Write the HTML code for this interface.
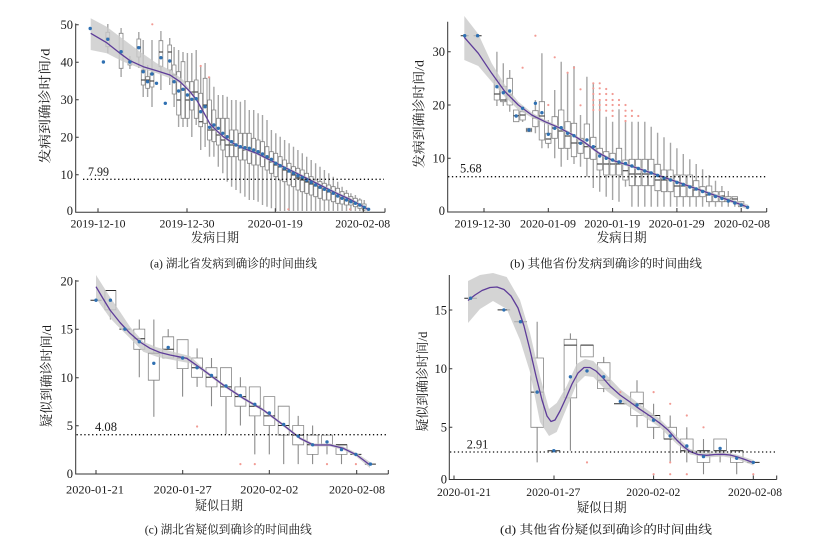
<!DOCTYPE html>
<html><head><meta charset="utf-8"><style>
html,body{margin:0;padding:0;background:#fff}
svg{display:block}
.t{font-family:"Liberation Serif","Noto Serif CJK SC",serif;fill:#1a1a1a}
.ax{fill:none;stroke:#333;stroke-width:1}
.wa{fill:none;stroke:#a6a6a6;stroke-width:1.4}
.wc{fill:none;stroke:#8a8a8a;stroke-width:1.1}
.bx{fill:#fff;stroke:#858585;stroke-width:.8}
.md{fill:none;stroke:#2a2a2a;stroke-width:1}
.bd{fill:#c9c9c9;fill-opacity:.8;stroke:none}
.tr{fill:none;stroke:#5e3c99;stroke-width:1.3;stroke-linejoin:round}
.dt{fill:none;stroke:#2f70b2;stroke-width:3.4;stroke-linecap:round}
.rd{fill:none;stroke:#f29b94;stroke-width:2.2;stroke-linecap:round}
.dl{fill:none;stroke:#111;stroke-width:1.3;stroke-dasharray:1.3 2.6}
</style></head><body>
<svg width="823" height="542" viewBox="0 0 823 542" xmlns="http://www.w3.org/2000/svg">
<rect width="823" height="542" fill="#fff"/>

<!-- ===== Panel A ===== -->
<path class="wa" d="M107.8 24V53.3M121.1 28V77M129.9 56V69M138.8 32V68M143.2 40V97M147.6 65V97M152 40V107M160.9 31V90M169.7 38V85M174.1 47V107M178.6 50V127M183 52V127M187.4 53V127M191.8 53V137M196.2 50V125M200.7 66.7V150M205.1 63V147M209.5 76.7V156.7M213.9 86.7V156.7M218.3 95V166.7M222.8 95V173.3M227.2 96.7V181.7M231.6 100V186.7M236 100V190M240.4 101.7V193.3M244.9 100V196.7M249.3 110V200M253.7 110V200M258.1 113.3V201.7M262.5 115V205M267 120V206.7M271.4 130V208.3M275.8 133.3V211M280.2 136.7V211M284.6 140V211M289.1 143.3V211M293.5 146.7V211M297.9 150V211M302.3 153.3V211M306.7 156.7V211M311.2 160V211M315.6 163.3V211M320 166.7V211M324.4 170V211M328.8 173.3V211M333.3 176.7V211M337.7 181.7V211M342.1 186.7V211M346.5 190V211M350.9 193.3V211M355.4 195V211M359.8 198.3V211M364.2 200V211"/>
<path class="bx" d="M105.9 32.3h3.8V46.7h-3.8ZM119.2 33.3h3.8V68.3h-3.8ZM128 60h3.8V65h-3.8ZM136.9 39h3.8V57h-3.8ZM141.3 70h3.8V85h-3.8ZM145.7 76.7h3.8V88.3h-3.8ZM150.1 73h3.8V87h-3.8ZM159 40.7h3.8V66.7h-3.8ZM167.8 45h3.8V70h-3.8ZM172.2 65h3.8V94h-3.8ZM176.7 71.7h3.8V115h-3.8ZM181.1 61.7h3.8V118.3h-3.8ZM185.5 81.7h3.8V118.3h-3.8ZM189.9 81.7h3.8V110h-3.8ZM194.3 80h3.8V118.3h-3.8ZM198.8 93.3h3.8V126.7h-3.8ZM203.2 78.3h3.8V123.3h-3.8ZM207.6 100h3.8V140h-3.8ZM212 110h3.8V141.7h-3.8ZM216.4 118.3h3.8V145h-3.8ZM220.9 118.3h3.8V150h-3.8ZM225.3 118.3h3.8V156.7h-3.8ZM229.7 130h3.8V156.7h-3.8ZM234.1 130h3.8V156.7h-3.8ZM238.5 133.3h3.8V160h-3.8ZM243 133.3h3.8V160h-3.8ZM247.4 133.3h3.8V163.3h-3.8ZM251.8 138.3h3.8V165h-3.8ZM256.2 140h3.8V165h-3.8ZM260.6 141.7h3.8V166.7h-3.8ZM265.1 146.7h3.8V170h-3.8ZM269.5 151.7h3.8V173.3h-3.8ZM273.9 153.3h3.8V176.7h-3.8ZM278.3 156.7h3.8V180h-3.8ZM282.7 160h3.8V181.7h-3.8ZM287.2 163.3h3.8V185h-3.8ZM291.6 166.7h3.8V186.7h-3.8ZM296 168.3h3.8V190h-3.8ZM300.4 170h3.8V191.7h-3.8ZM304.8 173.3h3.8V193.3h-3.8ZM309.3 176.7h3.8V195h-3.8ZM313.7 180h3.8V196.7h-3.8ZM318.1 181.7h3.8V198.3h-3.8ZM322.5 183.3h3.8V200h-3.8ZM326.9 185h3.8V200h-3.8ZM331.4 186.7h3.8V201.7h-3.8ZM335.8 188.3h3.8V203.3h-3.8ZM340.2 191.7h3.8V204h-3.8ZM344.6 193.3h3.8V205h-3.8ZM349 196.7h3.8V205h-3.8ZM353.5 198.3h3.8V206.7h-3.8ZM357.9 200h3.8V208.3h-3.8ZM362.3 204h3.8V210h-3.8Z"/>
<path class="md" d="M105.9 38h3.8M119.2 52h3.8M128 62h3.8M136.9 47h3.8M141.3 80h3.8M145.7 80h3.8M150.1 81h3.8M159 52h3.8M167.8 52h3.8M172.2 75h3.8M176.7 100h3.8M181.1 90h3.8M185.5 100h3.8M189.9 92h3.8M194.3 92h3.8M198.8 121.7h3.8M203.2 105h3.8M207.6 130h3.8M212 130h3.8M216.4 135h3.8M220.9 140h3.8M225.3 145h3.8M229.7 145h3.8M234.1 145h3.8M238.5 148h3.8M243 150h3.8M247.4 150h3.8M251.8 152h3.8M256.2 153h3.8M260.6 156h3.8M265.1 158h3.8M269.5 162h3.8M273.9 165h3.8M278.3 167h3.8M282.7 170h3.8M287.2 172h3.8M291.6 175h3.8M296 178h3.8M300.4 180h3.8M304.8 182h3.8M309.3 184h3.8M313.7 186h3.8M318.1 188h3.8M322.5 190h3.8M326.9 192h3.8M331.4 194h3.8M335.8 196h3.8M340.2 198h3.8M344.6 200h3.8M349 201h3.8M353.5 203h3.8M357.9 205h3.8M362.3 207h3.8"/>
<polygon class="bd" points="90.7,18.3 106.7,26.7 123.3,39.3 140,51.7 156.7,63.3 170,70 183.3,80 190,90 196.7,98.5 203.3,110.2 210,122.5 216.7,129.2 223.3,135.2 233.3,141.8 243.3,146.8 256.7,151.8 270,158.5 283.3,165.2 296.7,171.8 310,178.5 323.3,185.2 336.7,191.8 350,197.8 363.3,205 368,207.5 368,211.5 363.3,208.4 350,200.8 336.7,194.8 323.3,188.2 310,181.5 296.7,174.8 283.3,168.2 270,161.5 256.7,154.8 243.3,149.8 233.3,144.8 223.3,138.2 216.7,132.2 210,125.5 203.3,113.2 196.7,101.5 190,93.5 183.3,85 170,78.3 156.7,73.3 140,68.3 123.3,61.7 106.7,53.3 90.7,50"/>
<polyline class="tr" points="90.7,33.3 106.7,42.7 120,53.3 130,60.7 143.3,66.7 156.7,70.7 170,75 180,81.7 190,91.7 196.7,100 203.3,111.7 210,124 216.7,130.7 223.3,136.7 233.3,143.3 243.3,148.3 256.7,153.3 270,160 283.3,166.7 296.7,173.3 310,180 323.3,186.7 336.7,193.3 350,199.3 363.3,206.7 368,209.5"/>
<path class="dt" d="M90.2 28.5h.01M103.4 62h.01M107.8 39.3h.01M121.1 51.7h.01M129.9 62h.01M138.8 47.7h.01M143.2 71.7h.01M147.6 81.7h.01M152 74h.01M156.5 83.3h.01M160.9 57.7h.01M165.3 103.3h.01M169.7 61h.01M174.1 81.7h.01M178.6 91h.01M183 89.3h.01M187.4 95h.01M191.8 99.3h.01M196.2 98.7h.01M200.7 111.7h.01M205.1 106.7h.01M209.5 127.3h.01M213.9 125h.01M218.3 128.3h.01M222.8 133.3h.01M227.2 136.7h.01M231.6 141.7h.01M236 145h.01M240.4 146.7h.01M244.9 147.7h.01M249.3 148.3h.01M253.7 150h.01M258.1 151.7h.01M262.5 154h.01M267 156.7h.01M271.4 159.3h.01M275.8 163.3h.01M280.2 165.7h.01M284.6 168.3h.01M289.1 171h.01M293.5 173.3h.01M297.9 175.7h.01M302.3 177.7h.01M306.7 180h.01M311.2 182.3h.01M315.6 185h.01M320 187.3h.01M324.4 189.3h.01M328.8 190.7h.01M333.3 193.3h.01M337.7 196h.01M342.1 198.3h.01M346.5 200h.01M350.9 201.7h.01M355.4 203.3h.01M359.8 205h.01M364.2 207.3h.01M368.6 209.3h.01"/>
<path class="rd" d="M152.3 24.3h.01M200.7 66h.01M209 77.3h.01M288.3 209.3h.01M350 209.3h.01"/>
<path class="dl" d="M83 179.3H384"/>
<path class="ax" d="M75.7 23.5V212.3H385M98 212.3v-4M187 212.3v-4M275.3 212.3v-4M363.3 212.3v-4M385 212.3v-4M75.7 24.7h3M75.7 62.2h3M75.7 99.7h3M75.7 137.2h3M75.7 174.8h3"/>
<g class="t" font-size="12.5" text-anchor="end">
<text x="73" y="29">50</text><text x="73" y="66.5">40</text><text x="73" y="104">30</text><text x="73" y="141.5">20</text><text x="73" y="179">10</text><text x="73" y="215">0</text>
</g>
<g class="t" font-size="12" text-anchor="middle">
<text x="98" y="227.6" textLength="55" lengthAdjust="spacingAndGlyphs">2019-12-10</text>
<text x="187" y="227.6" textLength="55" lengthAdjust="spacingAndGlyphs">2019-12-30</text>
<text x="275.3" y="227.6" textLength="55" lengthAdjust="spacingAndGlyphs">2020-01-19</text>
<text x="362.7" y="227.6" textLength="55" lengthAdjust="spacingAndGlyphs">2020-02-08</text>
</g>
<g class="t" font-size="13" text-anchor="middle">
<text x="215" y="242" textLength="48" lengthAdjust="spacingAndGlyphs">发病日期</text>
<text x="233.5" y="267.5" font-size="12" textLength="167" lengthAdjust="spacingAndGlyphs">(a) 湖北省发病到确诊的时间曲线</text>
<text transform="translate(49.5,106) rotate(-90)" x="0" y="0" textLength="115" lengthAdjust="spacingAndGlyphs">发病到确诊时间/d</text>
</g>
<text class="t" x="88" y="176" font-size="12.5" textLength="21" lengthAdjust="spacingAndGlyphs">7.99</text>

<!-- ===== Panel B ===== -->
<path class="wa" d="M496.9 51.7V106M503.3 63.3V106M509.7 70V111.7M522.6 107V122M535.4 100V133.3M541.9 53.3V148.3M548.3 120V148.3M554.7 90V158.3M561.2 61.7V166.7M567.6 72V160M574 66V164M580.5 115V166.7M586.9 76.7V176.7M593.3 84V188M599.7 100V191.7M606.2 116.7V196.7M612.6 121.7V200M619 109.3V201.7M625.5 121.7V186.7M631.9 121.7V206.7M638.3 121.7V206.7M644.8 121.7V206.7M651.2 126.7V206.7M657.6 132.7V206.7M664 137.3V206.7M670.5 142.7V206.7M676.9 148.3V206.7M683.3 154V206.7M689.8 159.3V206.7M696.2 164V206.7M702.6 169.3V206.7M709.1 175V206.7M715.5 180.7V206.7M721.9 186V206.7M728.3 191V206.7M734.8 196.7V206.7"/>
<path class="bx" d="M494.2 80h5.4V100h-5.4ZM500.6 86.7h5.4V101.7h-5.4ZM507 78.3h5.4V105h-5.4ZM513.5 110h5.4V121.7h-5.4ZM519.9 111.7h5.4V120h-5.4ZM526.3 128.3h5.4V131.7h-5.4ZM532.7 110.7h5.4V126.7h-5.4ZM539.2 101.7h5.4V140h-5.4ZM545.6 133.3h5.4V143.3h-5.4ZM552 116.7h5.4V138.3h-5.4ZM558.5 110h5.4V148.3h-5.4ZM564.9 121.7h5.4V148.3h-5.4ZM571.3 123.3h5.4V156.7h-5.4ZM577.8 138.3h5.4V153.3h-5.4ZM584.2 124h5.4V158.3h-5.4ZM590.6 137.3h5.4V159.3h-5.4ZM597 148.3h5.4V170h-5.4ZM603.5 151.7h5.4V175h-5.4ZM609.9 153.3h5.4V175h-5.4ZM616.3 148.3h5.4V175h-5.4ZM622.8 160h5.4V180h-5.4ZM629.2 159.3h5.4V185.7h-5.4ZM635.6 159.3h5.4V185.7h-5.4ZM642.1 159.3h5.4V185.7h-5.4ZM648.5 159.3h5.4V185.7h-5.4ZM654.9 164.3h5.4V190.7h-5.4ZM661.3 170h5.4V191.7h-5.4ZM667.8 170h5.4V191.7h-5.4ZM674.2 175h5.4V196.7h-5.4ZM680.6 175h5.4V196.7h-5.4ZM687.1 175h5.4V196.7h-5.4ZM693.5 180.7h5.4V196.7h-5.4ZM699.9 186.7h5.4V196.7h-5.4ZM706.4 186h5.4V201.7h-5.4ZM712.8 191.7h5.4V201.7h-5.4ZM719.2 191.7h5.4V201.7h-5.4ZM725.6 196.7h5.4V201.7h-5.4ZM732.1 196.7h5.4V201.7h-5.4ZM738.5 201.7h5.4V206.7h-5.4Z"/>
<path class="md" d="M460.7 35.7h8M473.6 35.7h8M494.2 94h5.4M500.6 100h5.4M507 95h5.4M513.5 115.7h5.4M519.9 115h5.4M526.3 130h5.4M532.7 118h5.4M539.2 116h5.4M545.6 139h5.4M552 128h5.4M558.5 131h5.4M564.9 136h5.4M571.3 143h5.4M577.8 143h5.4M584.2 146.7h5.4M590.6 146.7h5.4M597 164h5.4M603.5 164h5.4M609.9 164h5.4M616.3 164h5.4M622.8 170.7h5.4M629.2 174h5.4M635.6 174h5.4M642.1 174h5.4M648.5 174h5.4M654.9 180h5.4M661.3 180h5.4M667.8 180h5.4M674.2 186h5.4M680.6 186h5.4M687.1 186h5.4M693.5 190h5.4M699.9 191h5.4M706.4 195h5.4M712.8 196h5.4M719.2 196h5.4M725.6 199h5.4M732.1 199h5.4M738.5 204h5.4"/>
<polygon class="bd" points="464.3,16 478.3,34 491.7,63.3 505,85 518.3,101.7 531.7,112.5 545,119.7 558.3,125.8 571.7,132.8 585,141.2 598.3,151.2 611.7,158.5 633.3,165.2 666.7,176.8 700,188.5 733.3,199.8 748.3,204.8 748.3,209.8 733.3,203.6 700,191.5 666.7,179.8 633.3,168.2 611.7,161.5 598.3,154.2 585,144.2 571.7,135.8 558.3,128.8 545,123.7 531.7,117.5 518.3,110 505,97 491.7,81.7 478.3,66 464.3,60"/>
<polyline class="tr" points="464.3,37.3 478.3,53.3 491.7,73.3 505,91.7 518.3,105 531.7,115 545,121.7 558.3,127.3 571.7,134.3 585,142.7 598.3,152.7 611.7,160 633.3,166.7 666.7,178.3 700,190 733.3,201.7 748.3,207.3"/>
<path class="dt" d="M464.7 35.7h.01M477.6 35.7h.01M496.9 86.7h.01M503.3 92.7h.01M509.7 91h.01M516.2 116h.01M522.6 108.3h.01M529 130h.01M535.4 103.3h.01M541.9 112.7h.01M548.3 134.3h.01M554.7 128.3h.01M561.2 127.7h.01M567.6 133.3h.01M574 135.7h.01M580.5 143.3h.01M586.9 140h.01M593.3 146.7h.01M599.7 156h.01M606.2 158.3h.01M612.6 160h.01M619 162h.01M625.5 163.5h.01M631.9 166h.01M638.3 168.5h.01M644.8 171h.01M651.2 173h.01M657.6 175.5h.01M664 178h.01M670.5 180h.01M676.9 182.5h.01M683.3 184.5h.01M689.8 187h.01M696.2 189h.01M702.6 191.5h.01M709.1 194h.01M715.5 196.5h.01M721.9 198.5h.01M728.3 201h.01M734.8 203h.01M741.2 205h.01M747.6 207.3h.01"/>
<path class="rd" d="M522.6 67.7h.01M535.4 35.7h.01M548.3 105h.01M554.7 57.3h.01M567.6 72.7h.01M574 67.7h.01M580.5 89.3h.01M580.5 105.3h.01M593.3 83.3h.01M593.3 88.3h.01M593.3 94h.01M593.3 100h.01M593.3 105h.01M593.3 110h.01M599.7 83.3h.01M599.7 88.3h.01M599.7 94h.01M599.7 100h.01M599.7 105h.01M599.7 110h.01M606.2 89h.01M606.2 94h.01M606.2 100h.01M606.2 105h.01M606.2 110.7h.01M612.6 94h.01M612.6 100h.01M612.6 105h.01M612.6 110.7h.01M612.6 116h.01M619 100h.01M619 105h.01M625.5 105h.01M625.5 110.7h.01M625.5 116h.01M625.5 121h.01M631.9 110.7h.01M631.9 116h.01M638.3 116h.01"/>
<path class="dl" d="M448 176.7H766"/>
<path class="ax" d="M447.7 21.7V212H766.7M484 212v-4M548.3 212v-4M612.6 212v-4M676.9 212v-4M741.2 212v-4M766.7 212v-4M447.7 51.7h3M447.7 105h3M447.7 158.3h3"/>
<g class="t" font-size="12.5" text-anchor="end">
<text x="445" y="56">30</text><text x="445" y="109.3">20</text><text x="445" y="162.6">10</text><text x="445" y="215">0</text>
</g>
<g class="t" font-size="12" text-anchor="middle">
<text x="482.5" y="227.6" textLength="56" lengthAdjust="spacingAndGlyphs">2019-12-30</text>
<text x="548" y="227.6" textLength="56" lengthAdjust="spacingAndGlyphs">2020-01-09</text>
<text x="612.3" y="227.6" textLength="56" lengthAdjust="spacingAndGlyphs">2020-01-19</text>
<text x="676.7" y="227.6" textLength="56" lengthAdjust="spacingAndGlyphs">2020-01-29</text>
<text x="742" y="227.6" textLength="56" lengthAdjust="spacingAndGlyphs">2020-02-08</text>
</g>
<g class="t" font-size="13" text-anchor="middle">
<text x="621.7" y="242" textLength="50" lengthAdjust="spacingAndGlyphs">发病日期</text>
<text x="606" y="267.5" font-size="12" textLength="192" lengthAdjust="spacingAndGlyphs">(b) 其他省份发病到确诊的时间曲线</text>
<text transform="translate(423.5,114) rotate(-90)" x="0" y="0" textLength="108" lengthAdjust="spacingAndGlyphs">发病到确诊时间/d</text>
</g>
<text class="t" x="460" y="172.5" font-size="12.5" textLength="21.7" lengthAdjust="spacingAndGlyphs">5.68</text>

<!-- ===== Panel C ===== -->
<path class="wc" d="M110.4 309.8V319.5M139.3 319.5V377.3M168.2 329.1V358M182.6 339.7V396.6M197.1 348.4V386.9M211.5 358V406.2M226 367.7V434.2M240.4 377.3V425.5M254.8 386.9V454.4M269.3 396.6V454.4M283.7 406.2V464.1M298.2 415.9V464.1M312.6 425.5V464.1M327 435.1V454.4M341.5 444.8V464.1"/>
<path class="wa" d="M153.8 319.5V416.8"/>
<path class="bx" d="M104.9 290.5h11V309.8h-11ZM133.8 329.1h11V349.3h-11ZM148.3 353.2h11V380.2h-11ZM162.7 336.8h11V358h-11ZM177.1 339.7h11V368.6h-11ZM191.6 358h11V377.3h-11ZM206 367.7h11V386.9h-11ZM220.5 367.7h11V396.6h-11ZM234.9 386.9h11V406.2h-11ZM249.3 386.9h11V415.9h-11ZM263.8 396.6h11V425.5h-11ZM278.2 406.2h11V435.1h-11ZM292.7 425.5h11V444.8h-11ZM307.1 435.1h11V454.4h-11ZM321.5 435.1h11V444.8h-11ZM336 444.8h11V454.4h-11Z"/>
<path class="md" d="M90.5 300.2h11M104.9 290.5h11M119.4 329.1h11M133.8 338.7h11M148.3 353.2h11M162.7 349.3h11M177.1 358h11M191.6 367.7h11M206 377.3h11M220.5 386.9h11M234.9 396.6h11M249.3 406.2h11M263.8 415.9h11M278.2 425.5h11M292.7 435.1h11M307.1 444.8h11M321.5 444.8h11M336 444.8h11M350.4 454.4h11M364.9 464.1h11"/>
<polygon class="bd" points="96,275 110,297 116.7,306.7 130,326.7 143.3,341.7 156.7,347.3 176.7,352.7 190,356 203.3,368.3 223.3,383.5 243.3,396.8 263.3,408.5 283.3,423.5 300,436.8 313.3,443.5 330,443.5 343.3,446.5 356.7,453 370,462 370,468 356.7,457 343.3,450 330,446.5 313.3,446.5 300,439.8 283.3,426.5 263.3,411.5 243.3,399.8 223.3,386.5 203.3,371.7 190,363.3 176.7,360.7 156.7,356.7 143.3,351.7 130,338.3 116.7,325 110,318 96,298.3"/>
<polyline class="tr" points="96,286.7 103,298.5 110,310 120,322.5 130,333.3 140,342 150,348.3 160,352.5 170,355 186.7,358.3 203.3,370 223.3,385 243.3,398.3 263.3,410 283.3,425 300,438.3 313.3,445 330,445 343.3,448.3 356.7,455 370,465"/>
<path class="dt" d="M96 300.2h.01M110.4 300.2h.01M124.9 329.1h.01M139.3 341.7h.01M153.8 363.3h.01M168.2 347.4h.01M182.6 358h.01M197.1 367.7h.01M211.5 375.4h.01M226 386h.01M240.4 395.6h.01M254.8 404.3h.01M269.3 413h.01M283.7 424.5h.01M298.2 436.1h.01M312.6 444.8h.01M327 441.9h.01M341.5 449.6h.01M355.9 454.4h.01M370.4 464.1h.01"/>
<path class="rd" d="M197.1 426.5h.01M240.4 464.1h.01M254.8 464.1h.01M327 464.1h.01M355.9 464.1h.01"/>
<path class="dl" d="M76.5 434.7H388"/>
<path class="ax" d="M75.7 280V474H388.3M96 474v-4M182.7 474v-4M269.3 474v-4M356.7 474v-4M388.3 474v-4M75.7 281h3M75.7 329.3h3M75.7 377.7h3M75.7 425.7h3"/>
<g class="t" font-size="12.5" text-anchor="end">
<text x="73" y="285.3">20</text><text x="73" y="333.6">15</text><text x="73" y="382">10</text><text x="73" y="430">5</text><text x="73" y="478">0</text>
</g>
<g class="t" font-size="12" text-anchor="middle">
<text x="95" y="493.6" textLength="58" lengthAdjust="spacingAndGlyphs">2020-01-21</text>
<text x="182.7" y="493.6" textLength="58" lengthAdjust="spacingAndGlyphs">2020-01-27</text>
<text x="269.3" y="493.6" textLength="58" lengthAdjust="spacingAndGlyphs">2020-02-02</text>
<text x="357" y="493.6" textLength="56" lengthAdjust="spacingAndGlyphs">2020-02-08</text>
</g>
<g class="t" font-size="13" text-anchor="middle">
<text x="219" y="510" textLength="48" lengthAdjust="spacingAndGlyphs">疑似日期</text>
<text x="228.3" y="533.5" font-size="12" textLength="167" lengthAdjust="spacingAndGlyphs">(c) 湖北省疑似到确诊的时间曲线</text>
<text transform="translate(51.2,376) rotate(-90)" x="0" y="0" textLength="102" lengthAdjust="spacingAndGlyphs">疑似到确诊时间/d</text>
</g>
<text class="t" x="95" y="431" font-size="12.5" textLength="22" lengthAdjust="spacingAndGlyphs">4.08</text>

<!-- ===== Panel D ===== -->
<path class="wc" d="M570.4 333.4V450.7M603.7 356.9V392.1M637 380.3V427.3M653.6 403.8V439M670.2 415.5V462.4M686.8 427.3V462.4M703.5 439V474.2M720.1 450.7V462.4M736.7 462.4V474.2"/>
<path class="wa" d="M537.2 321.7V462.4"/>
<path class="bx" d="M530.9 358h12.6V427.3h-12.6ZM564.1 339.3h12.6V397.9h-12.6ZM580.7 345.1h12.6V356.9h-12.6ZM597.4 362.7h12.6V388.5h-12.6ZM630.7 392.1h12.6V415.5h-12.6ZM647.3 415.5h12.6V427.3h-12.6ZM663.9 427.3h12.6V439h-12.6ZM680.5 439h12.6V450.7h-12.6ZM697.2 450.7h12.6V462.4h-12.6ZM713.8 439h12.6V450.7h-12.6ZM730.4 450.7h12.6V462.4h-12.6Z"/>
<path class="md" d="M464.3 298.2h12.6M497.6 309.9h12.6M514.2 321.7h12.6M530.9 392.1h12.6M547.5 450.7h12.6M564.1 345.1h12.6M580.7 345.1h12.6M597.4 380.3h12.6M614 403.8h12.6M630.7 403.8h12.6M647.3 415.5h12.6M663.9 439h12.6M680.5 450.7h12.6M697.2 450.7h12.6M713.8 450.7h12.6M730.4 450.7h12.6M747 462.4h12.6"/>
<polygon class="bd" points="468,281 480,275 493,273 506.7,277 520,300 530,333 540,376 549,409 556.7,403 566.7,386 576.7,364 585,359 593.3,361 606.7,375 620,389 640,404.5 660,419 676.7,436 690,449 706.7,453 723.3,452 736.7,454.5 753.3,460 753.3,465.5 736.7,459 723.3,456.5 706.7,457.5 690,454.5 676.7,444 660,427.5 640,414 620,401 606.7,391 593.3,377 585,376 576.7,384 566.7,408 556.7,432 549,436 540,422 530,372 520,340 506.7,309 493,301 480,309 468,323"/>
<polyline class="tr" points="468,300.5 475,295 482,290.5 490,287.5 497,287 504,289.5 511,296 518,308 524,326 530,350 536,376 542,400 547,416 551,421.5 555,420 560,411 566,398 572,384 578,373 584,367.5 590,367.5 596,371 603,378 610,386 620,395 630,402 640,409.3 650,416 660,423.3 668,430 676.7,440 684,447 690,451.5 698,454.5 706.7,455.3 715,454.5 723.3,454.3 730,455 736.7,456.7 745,459.5 753.3,462.7"/>
<path class="dt" d="M470.6 298.2h.01M503.9 309.9h.01M520.5 321.7h.01M537.2 392.1h.01M553.8 450.7h.01M570.4 376.8h.01M587 370.9h.01M603.7 376.8h.01M620.3 401.4h.01M637 405h.01M653.6 420.2h.01M670.2 436h.01M686.8 446h.01M703.5 456.6h.01M720.1 448.4h.01M736.7 458.3h.01M753.3 462.4h.01"/>
<path class="rd" d="M587 462.4h.01M620.3 392.1h.01M653.6 392.1h.01M653.6 474.2h.01M670.2 403.8h.01M670.2 462.4h.01M670.2 474.2h.01M686.8 415.5h.01M686.8 474.2h.01M703.5 427.3h.01M753.3 474.2h.01"/>
<path class="dl" d="M450 452H776"/>
<path class="ax" d="M449.3 275V479.5H776.7M454 479.5v-4M554 479.5v-4M653.6 479.5v-4M753.3 479.5v-4M776.7 479.5v-4M449.3 310h3M449.3 368.7h3M449.3 427.3h3"/>
<g class="t" font-size="12.5" text-anchor="end">
<text x="447" y="314.3">15</text><text x="447" y="373">10</text><text x="447" y="431.6">5</text><text x="447" y="483.5">0</text>
</g>
<g class="t" font-size="12" text-anchor="middle">
<text x="464" y="496" textLength="54" lengthAdjust="spacingAndGlyphs">2020-01-21</text>
<text x="553.3" y="496" textLength="54" lengthAdjust="spacingAndGlyphs">2020-01-27</text>
<text x="653.3" y="496" textLength="54" lengthAdjust="spacingAndGlyphs">2020-02-02</text>
<text x="755" y="496" textLength="54" lengthAdjust="spacingAndGlyphs">2020-02-08</text>
</g>
<g class="t" font-size="13" text-anchor="middle">
<text x="601.7" y="512" textLength="50" lengthAdjust="spacingAndGlyphs">疑似日期</text>
<text x="606" y="533.5" font-size="12" textLength="212" lengthAdjust="spacingAndGlyphs">(d) 其他省份疑似到确诊的时间曲线</text>
<text transform="translate(427,381.5) rotate(-90)" x="0" y="0" textLength="100" lengthAdjust="spacingAndGlyphs">疑似到确诊时间/d</text>
</g>
<text class="t" x="466.7" y="448.5" font-size="12.5" textLength="21.6" lengthAdjust="spacingAndGlyphs">2.91</text>
</svg>
</body></html>
